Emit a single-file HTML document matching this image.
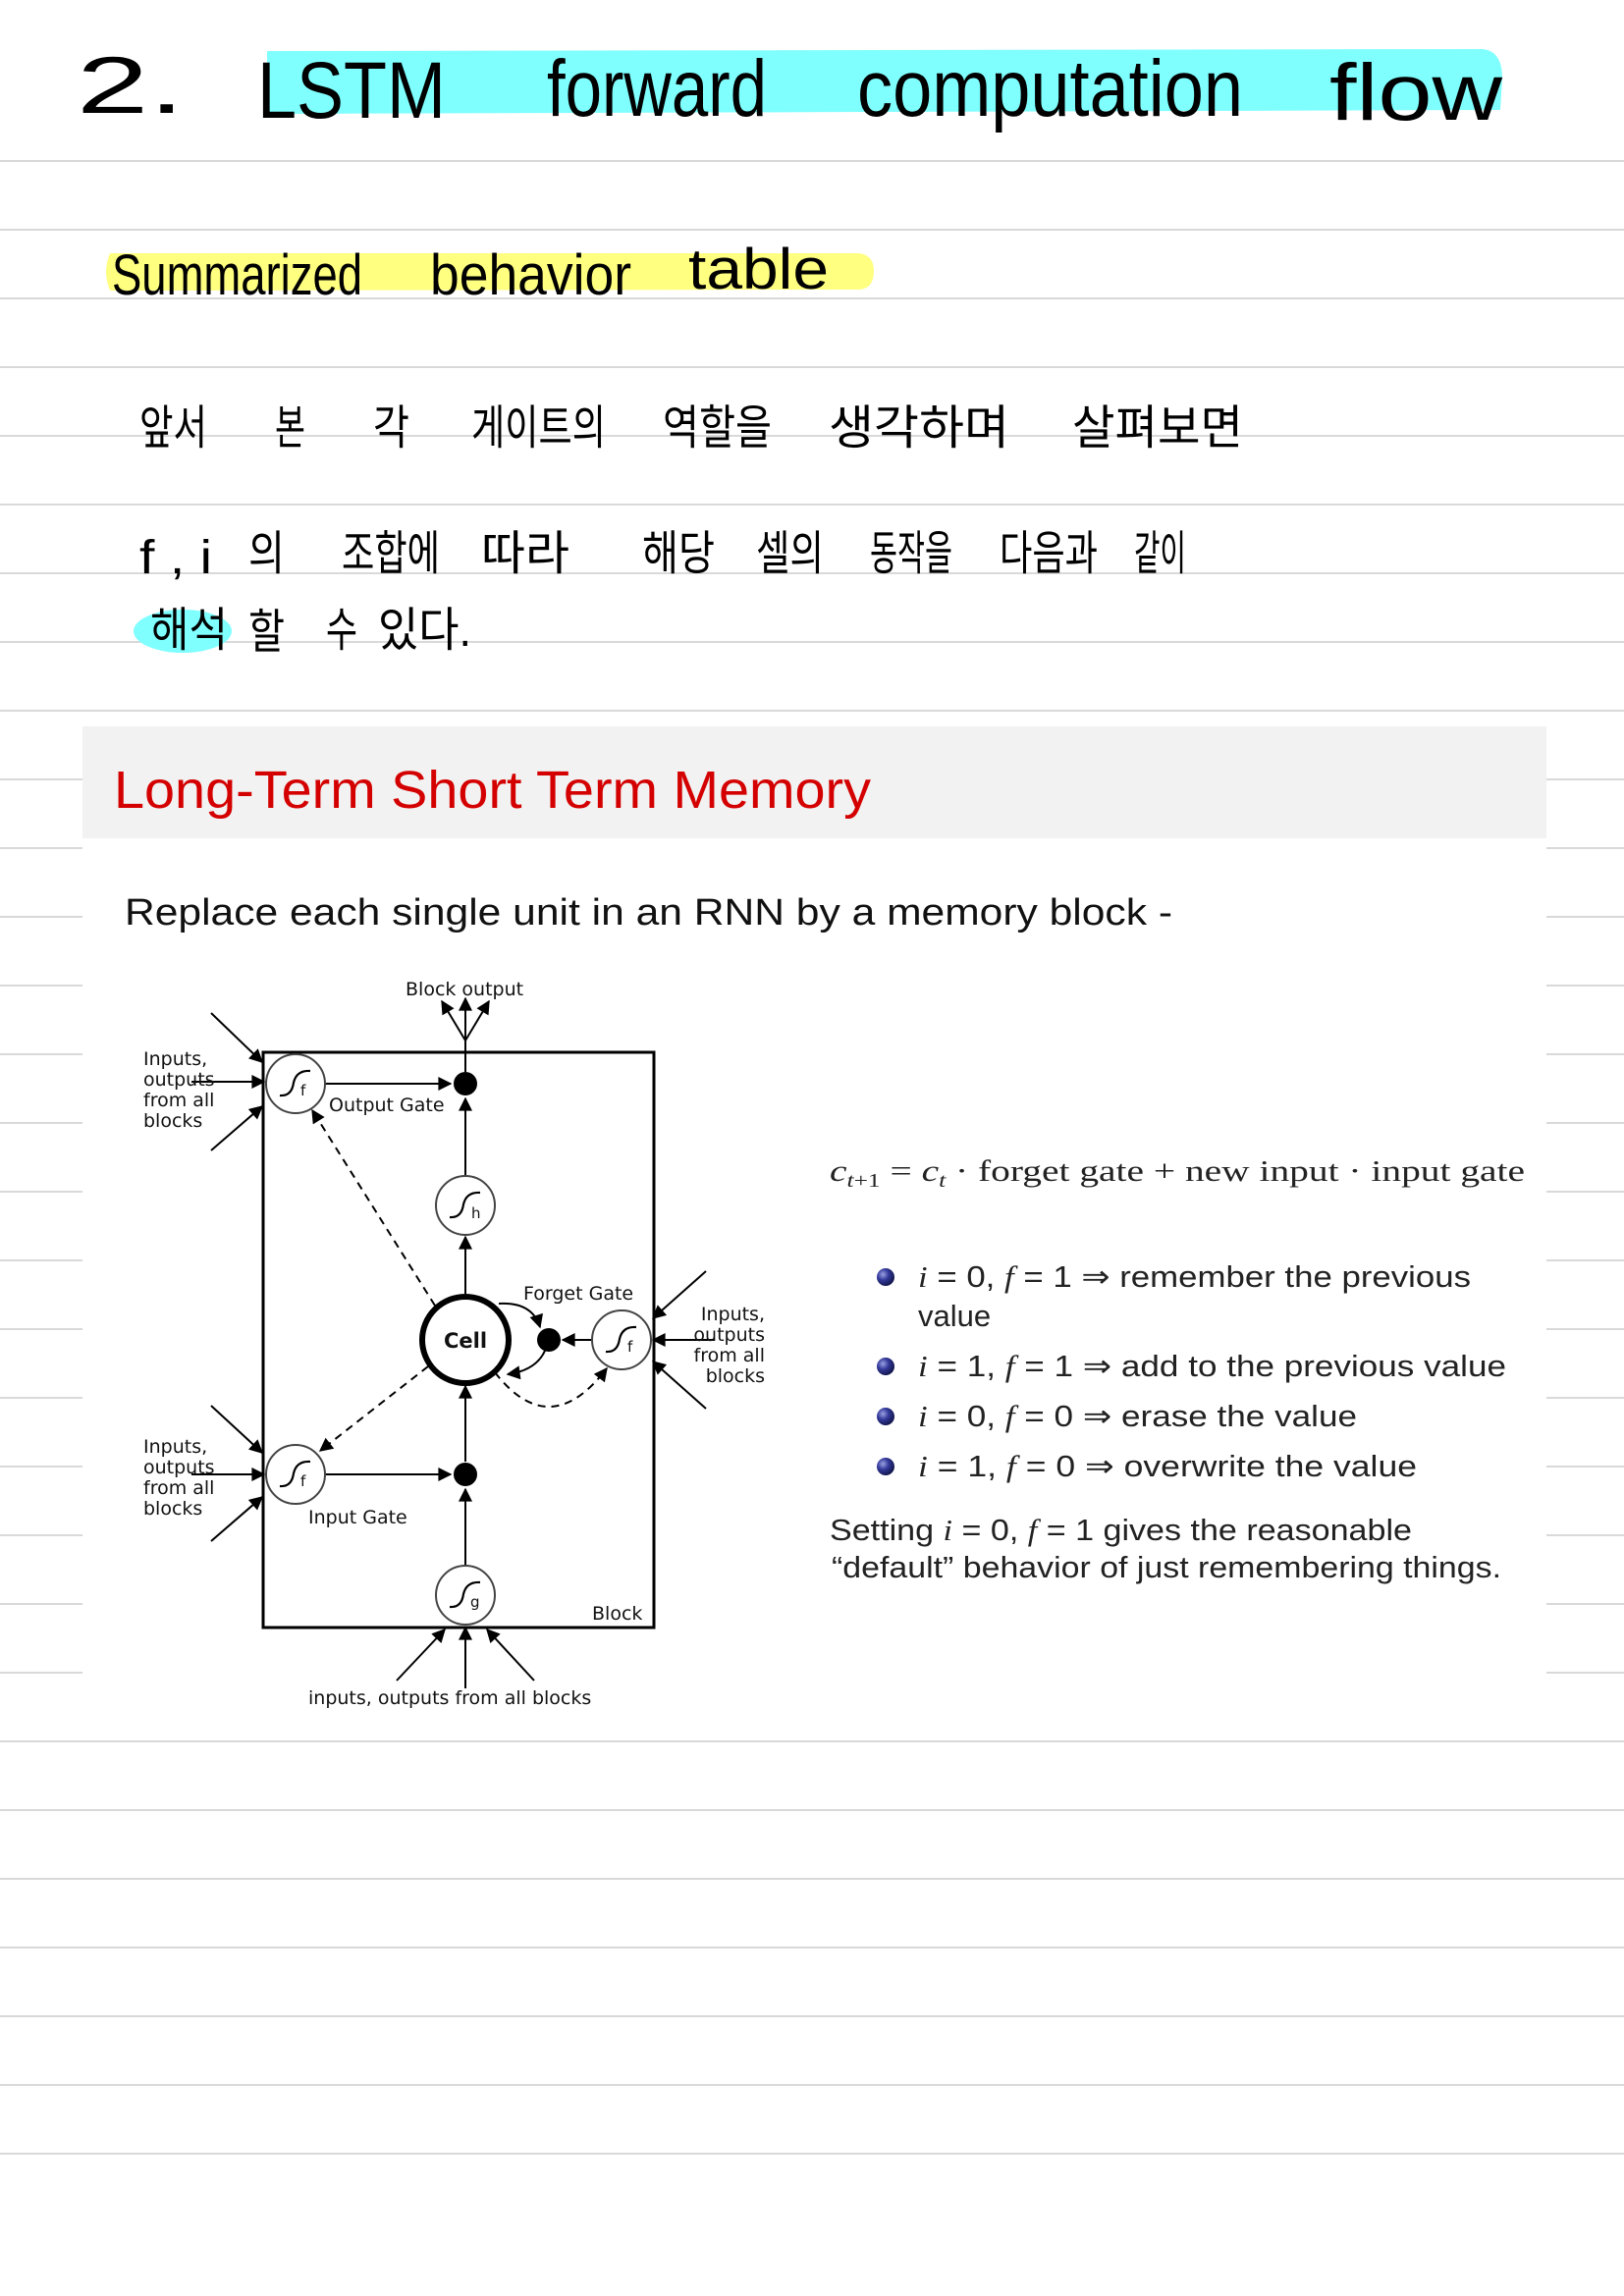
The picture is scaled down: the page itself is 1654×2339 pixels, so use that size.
<!DOCTYPE html>
<html><head><meta charset="utf-8"><style>html,body{margin:0;padding:0;background:#fff}svg{display:block}</style></head><body>
<svg width="1654" height="2339" viewBox="0 0 1654 2339" xmlns="http://www.w3.org/2000/svg">
<defs>
<marker id="ah" viewBox="0 0 10 10" refX="9" refY="5" markerWidth="16" markerHeight="14" orient="auto" markerUnits="userSpaceOnUse"><path d="M0,0 L10,5 L0,10 z" fill="#000"/></marker>
<radialGradient id="bl" cx="35%" cy="35%" r="65%"><stop offset="0" stop-color="#9aa0e0"/><stop offset="0.5" stop-color="#33399a"/><stop offset="1" stop-color="#141850"/></radialGradient>
</defs>
<g stroke="#d9d9d9" stroke-width="2">
<line x1="0" y1="164" x2="1654" y2="164"/><line x1="0" y1="234" x2="1654" y2="234"/><line x1="0" y1="304" x2="1654" y2="304"/><line x1="0" y1="374" x2="1654" y2="374"/><line x1="0" y1="444" x2="1654" y2="444"/><line x1="0" y1="514" x2="1654" y2="514"/><line x1="0" y1="584" x2="1654" y2="584"/><line x1="0" y1="654" x2="1654" y2="654"/><line x1="0" y1="724" x2="1654" y2="724"/><line x1="0" y1="794" x2="1654" y2="794"/><line x1="0" y1="864" x2="1654" y2="864"/><line x1="0" y1="934" x2="1654" y2="934"/><line x1="0" y1="1004" x2="1654" y2="1004"/><line x1="0" y1="1074" x2="1654" y2="1074"/><line x1="0" y1="1144" x2="1654" y2="1144"/><line x1="0" y1="1214" x2="1654" y2="1214"/><line x1="0" y1="1284" x2="1654" y2="1284"/><line x1="0" y1="1354" x2="1654" y2="1354"/><line x1="0" y1="1424" x2="1654" y2="1424"/><line x1="0" y1="1494" x2="1654" y2="1494"/><line x1="0" y1="1564" x2="1654" y2="1564"/><line x1="0" y1="1634" x2="1654" y2="1634"/><line x1="0" y1="1704" x2="1654" y2="1704"/><line x1="0" y1="1774" x2="1654" y2="1774"/><line x1="0" y1="1844" x2="1654" y2="1844"/><line x1="0" y1="1914" x2="1654" y2="1914"/><line x1="0" y1="1984" x2="1654" y2="1984"/><line x1="0" y1="2054" x2="1654" y2="2054"/><line x1="0" y1="2124" x2="1654" y2="2124"/><line x1="0" y1="2194" x2="1654" y2="2194"/>
</g>
<!-- Title -->
<path d="M272,52 L1510,50 Q1530,52 1530,80 L1528,112 L272,116 Z" fill="#80ffff"/>
<g font-family="Liberation Sans, sans-serif" font-size="82" fill="#000">
<text x="78" y="115" textLength="110" lengthAdjust="spacingAndGlyphs">2.</text>
<text x="262" y="120" textLength="192" lengthAdjust="spacingAndGlyphs">LSTM</text>
<text x="557" y="118" textLength="224" lengthAdjust="spacingAndGlyphs">forward</text>
<text x="873" y="118" textLength="393" lengthAdjust="spacingAndGlyphs">computation</text>
<text x="1354" y="122" textLength="176" lengthAdjust="spacingAndGlyphs">flow</text>
</g>
<path d="M112,258 L875,258 Q890,260 890,276 Q890,294 875,295 L112,296 Q104,277 112,258 Z" fill="#ffff80"/>
<g font-family="Liberation Sans, sans-serif" font-size="58" fill="#000">
<text x="114" y="300" textLength="255" lengthAdjust="spacingAndGlyphs">Summarized</text>
<text x="438" y="300" textLength="205" lengthAdjust="spacingAndGlyphs">behavior</text>
<text x="701" y="294" textLength="143" lengthAdjust="spacingAndGlyphs">table</text>
</g>
<ellipse cx="186" cy="643" rx="50" ry="22" fill="#80ffff"/>
<g font-family="Liberation Sans, 'Noto Sans CJK KR', sans-serif" font-size="48" fill="#000">
<text x="142" y="452" textLength="69" lengthAdjust="spacingAndGlyphs">앞서</text>
<text x="280" y="452" textLength="31" lengthAdjust="spacingAndGlyphs">본</text>
<text x="380" y="452" textLength="37" lengthAdjust="spacingAndGlyphs">각</text>
<text x="480" y="452" textLength="137" lengthAdjust="spacingAndGlyphs">게이트의</text>
<text x="675" y="452" textLength="111" lengthAdjust="spacingAndGlyphs">역할을</text>
<text x="844" y="452" textLength="184" lengthAdjust="spacingAndGlyphs">생각하며</text>
<text x="1092" y="452" textLength="174" lengthAdjust="spacingAndGlyphs">살펴보면</text>
<text x="142" y="584" textLength="74" lengthAdjust="spacingAndGlyphs">f , i</text>
<text x="253" y="580" textLength="37" lengthAdjust="spacingAndGlyphs">의</text>
<text x="348" y="580" textLength="100" lengthAdjust="spacingAndGlyphs">조합에</text>
<text x="490" y="580" textLength="90" lengthAdjust="spacingAndGlyphs">따라</text>
<text x="654" y="580" textLength="74" lengthAdjust="spacingAndGlyphs">해당</text>
<text x="770" y="580" textLength="69" lengthAdjust="spacingAndGlyphs">셀의</text>
<text x="886" y="580" textLength="84" lengthAdjust="spacingAndGlyphs">동작을</text>
<text x="1018" y="580" textLength="100" lengthAdjust="spacingAndGlyphs">다음과</text>
<text x="1155" y="580" textLength="53" lengthAdjust="spacingAndGlyphs">같이</text>
<text x="153" y="658" textLength="79" lengthAdjust="spacingAndGlyphs">해석</text>
<text x="253" y="660" textLength="37" lengthAdjust="spacingAndGlyphs">할</text>
<text x="332" y="658" textLength="32" lengthAdjust="spacingAndGlyphs">수</text>
<text x="385" y="658" textLength="95" lengthAdjust="spacingAndGlyphs">있다.</text>
</g>
<!-- slide -->
<rect x="84" y="740" width="1491" height="1000" fill="#fff"/>
<rect x="84" y="740" width="1491" height="114" fill="#f2f2f2"/>
<text x="116" y="823" font-family="Liberation Sans, sans-serif" font-size="54" fill="#d40000" textLength="771" lengthAdjust="spacingAndGlyphs">Long-Term Short Term Memory</text>
<text x="127" y="942" font-family="Liberation Sans, sans-serif" font-size="38" fill="#111" textLength="1067" lengthAdjust="spacingAndGlyphs">Replace each single unit in an RNN by a memory block -</text>
<!-- diagram -->
<g stroke="#000" fill="none" stroke-width="3">
<rect x="268" y="1072" width="398" height="586"/>
<line x1="474" y1="1092" x2="474" y2="1058" stroke-width="2"/>
</g>
<g stroke="#000" stroke-width="2" fill="none" marker-end="url(#ah)">
<line x1="474" y1="1060" x2="450" y2="1020"/>
<line x1="474" y1="1060" x2="474" y2="1017"/>
<line x1="474" y1="1060" x2="498" y2="1020"/>
<line x1="331" y1="1104" x2="459" y2="1104"/>
<line x1="474" y1="1198" x2="474" y2="1119"/>
<line x1="474" y1="1318" x2="474" y2="1260"/>
<line x1="474" y1="1489" x2="474" y2="1412"/>
<line x1="474" y1="1595" x2="474" y2="1517"/>
<line x1="331" y1="1502" x2="459" y2="1502"/>
<line x1="603" y1="1365" x2="573" y2="1365"/>
<line x1="215" y1="1032" x2="267" y2="1082"/>
<line x1="195" y1="1102" x2="269" y2="1102"/>
<line x1="215" y1="1172" x2="267" y2="1127"/>
<line x1="215" y1="1432" x2="267" y2="1480"/>
<line x1="195" y1="1502" x2="269" y2="1502"/>
<line x1="215" y1="1570" x2="267" y2="1525"/>
<line x1="719" y1="1295" x2="665" y2="1343"/>
<line x1="727" y1="1365" x2="665" y2="1365"/>
<line x1="719" y1="1435" x2="665" y2="1387"/>
<line x1="404" y1="1712" x2="453" y2="1660"/>
<line x1="474" y1="1720" x2="474" y2="1658"/>
<line x1="544" y1="1712" x2="496" y2="1660"/>
<path d="M508,1328 Q542,1326 550,1352"/>
<path d="M555,1376 Q546,1396 517,1400"/>
<path d="M443,1330 L318,1131" stroke-dasharray="8,6"/>
<path d="M436,1392 L326,1478" stroke-dasharray="8,6"/>
<path d="M504,1398 Q560,1470 618,1394" stroke-dasharray="8,6"/>
</g>
<g fill="#fff" stroke="#444" stroke-width="2">
<circle cx="301" cy="1104" r="30"/><circle cx="474" cy="1228" r="30"/><circle cx="633" cy="1365" r="30"/><circle cx="301" cy="1502" r="30"/><circle cx="474" cy="1625" r="30"/>
</g>
<circle cx="474" cy="1365" r="44" fill="#fff" stroke="#000" stroke-width="6"/>
<g fill="#000"><circle cx="474" cy="1104" r="12"/><circle cx="474" cy="1502" r="12"/><circle cx="559" cy="1365" r="12"/></g>
<g stroke="#000" stroke-width="2.2" fill="none">
<path d="M285,1116 Q297,1117 299,1103 Q302,1090 316,1091"/>
<path d="M458,1240 Q470,1241 472,1227 Q475,1214 489,1215"/>
<path d="M617,1377 Q629,1378 631,1364 Q634,1351 648,1352"/>
<path d="M285,1514 Q297,1515 299,1501 Q302,1488 316,1489"/>
<path d="M458,1637 Q470,1638 472,1624 Q475,1611 489,1612"/>
</g>
<g font-family="DejaVu Sans, sans-serif" fill="#111" font-size="15">
<text x="306" y="1116">f</text><text x="480" y="1241">h</text><text x="639" y="1377">f</text><text x="306" y="1514">f</text><text x="479" y="1637">g</text>
</g>
<g font-family="DejaVu Sans, sans-serif" fill="#111" font-size="19">
<text x="474" y="1373" text-anchor="middle" font-weight="bold" font-size="21">Cell</text>
<text x="413" y="1014">Block output</text>
<text x="335" y="1132">Output Gate</text>
<text x="533" y="1324">Forget Gate</text>
<text x="314" y="1552">Input Gate</text>
<text x="603" y="1650">Block</text>
<text x="314" y="1736">inputs, outputs from all blocks</text>
<text x="146" y="1085">Inputs,</text><text x="146" y="1106">outputs</text><text x="146" y="1127">from all</text><text x="146" y="1148">blocks</text>
<text x="146" y="1480">Inputs,</text><text x="146" y="1501">outputs</text><text x="146" y="1522">from all</text><text x="146" y="1543">blocks</text>
<g text-anchor="end"><text x="779" y="1345">Inputs,</text><text x="779" y="1366">outputs</text><text x="779" y="1387">from all</text><text x="779" y="1408">blocks</text></g>
</g>
<!-- right text -->
<text x="845" y="1203" font-family="Liberation Serif, serif" font-size="31" fill="#222" textLength="708" lengthAdjust="spacingAndGlyphs"><tspan font-style="italic">c</tspan><tspan font-size="20" dy="6" font-style="italic">t</tspan><tspan font-size="20">+1</tspan><tspan dy="-6"> = </tspan><tspan font-style="italic">c</tspan><tspan font-size="20" dy="6" font-style="italic">t</tspan><tspan dy="-6"> · forget gate + new input · input gate</tspan></text>
<g fill="url(#bl)"><circle cx="902" cy="1301" r="9"/><circle cx="902" cy="1392" r="9"/><circle cx="902" cy="1443" r="9"/><circle cx="902" cy="1494" r="9"/></g>
<g font-family="Liberation Sans, sans-serif" font-size="31" fill="#222">
<text x="935" y="1311" textLength="563" lengthAdjust="spacingAndGlyphs"><tspan font-family="Liberation Serif, serif" font-style="italic">i</tspan> = 0, <tspan font-family="Liberation Serif, serif" font-style="italic">f</tspan> = 1 ⇒ remember the previous</text>
<text x="935" y="1351">value</text>
<text x="935" y="1402" textLength="599" lengthAdjust="spacingAndGlyphs"><tspan font-family="Liberation Serif, serif" font-style="italic">i</tspan> = 1, <tspan font-family="Liberation Serif, serif" font-style="italic">f</tspan> = 1 ⇒ add to the previous value</text>
<text x="935" y="1453" textLength="447" lengthAdjust="spacingAndGlyphs"><tspan font-family="Liberation Serif, serif" font-style="italic">i</tspan> = 0, <tspan font-family="Liberation Serif, serif" font-style="italic">f</tspan> = 0 ⇒ erase the value</text>
<text x="935" y="1504" textLength="508" lengthAdjust="spacingAndGlyphs"><tspan font-family="Liberation Serif, serif" font-style="italic">i</tspan> = 1, <tspan font-family="Liberation Serif, serif" font-style="italic">f</tspan> = 0 ⇒ overwrite the value</text>
<text x="845" y="1569" textLength="593" lengthAdjust="spacingAndGlyphs">Setting <tspan font-family="Liberation Serif, serif" font-style="italic">i</tspan> = 0, <tspan font-family="Liberation Serif, serif" font-style="italic">f</tspan> = 1 gives the reasonable</text>
<text x="847" y="1607" textLength="682" lengthAdjust="spacingAndGlyphs">“default” behavior of just remembering things.</text>
</g>
</svg>
</body></html>
